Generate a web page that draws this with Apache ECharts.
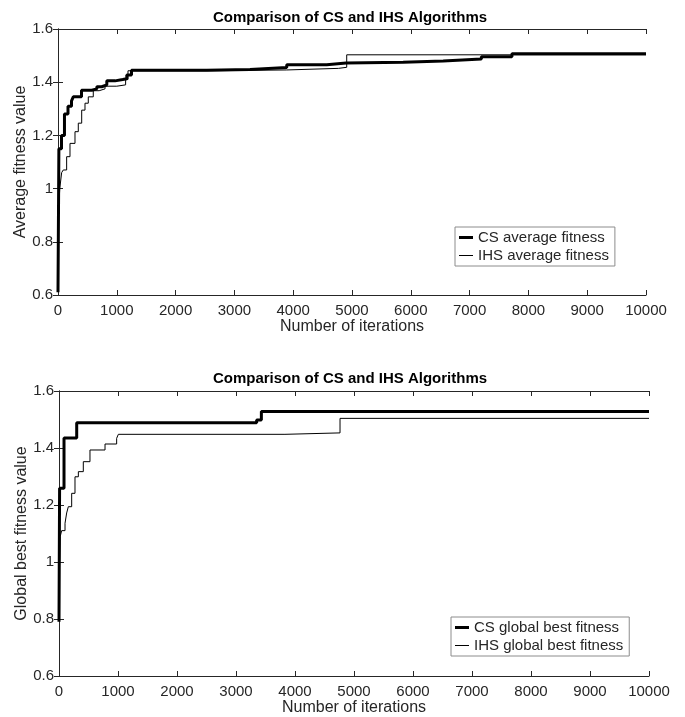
<!DOCTYPE html>
<html>
<head>
<meta charset="utf-8">
<script src="https://cdn.jsdelivr.net/npm/echarts@6/dist/echarts.min.js"></script>
<style>
  html, body { margin: 0; padding: 0; background: #fff; }
  #chart { width: 685px; height: 717px; }
</style>
</head>
<body>
<div id="chart"></div>
<script>
// 刻度
const xTickLabels = [0, 1000, 2000, 3000, 4000, 5000, 6000, 7000, 8000, 9000, 10000];
const yTickLabels = [0.6, 0.8, 1, 1.2, 1.4, 1.6];

// 上图：平均适应度
const csAvgIter = [0, 15, 60, 110, 170, 230, 260, 400, 575, 660, 745, 830, 970, 1100, 1170, 1250, 1700, 2530, 3265, 3890, 4570, 4900, 5870, 6550, 7200, 7720, 10000];
const csAvgVal = [0.61, 1.15, 1.2, 1.28, 1.31, 1.33, 1.345, 1.37, 1.375, 1.383, 1.39, 1.405, 1.41, 1.413, 1.427, 1.445, 1.445, 1.448, 1.455, 1.466, 1.472, 1.475, 1.48, 1.487, 1.496, 1.507, 1.507];
const ihsAvgIter = [0, 30, 62, 90, 147, 204, 289, 345, 403, 459, 515, 600, 700, 800, 1000, 1150, 1190, 1700, 2530, 3890, 4770, 4910, 10000];
const ihsAvgVal = [0.88, 1.0, 1.06, 1.07, 1.12, 1.17, 1.214, 1.246, 1.295, 1.321, 1.345, 1.368, 1.375, 1.385, 1.39, 1.41, 1.443, 1.443, 1.446, 1.452, 1.456, 1.503, 1.503];

// 下图：全局最优适应度
const csBestIter = [0, 10, 85, 300, 3350, 3430, 10000];
const csBestVal = [0.79, 1.259, 1.435, 1.489, 1.498, 1.528, 1.528];
const ihsBestIter = [0, 20, 45, 102, 130, 158, 215, 271, 328, 412, 525, 780, 977, 1006, 3830, 4763, 10000];
const ihsBestVal = [0.9, 1.089, 1.11, 1.136, 1.172, 1.194, 1.241, 1.299, 1.317, 1.352, 1.393, 1.414, 1.434, 1.448, 1.453, 1.504, 1.504];

const titleText = "Comparison of CS and IHS Algorithms";
const textColor = "#262626";
const font = "Liberation Sans, Arial, sans-serif";

const pairs = (xs, ys) => xs.map((x, i) => [x, ys[i]]);

const xMin = xTickLabels[0];
const xMax = xTickLabels[xTickLabels.length - 1];
const xStep = xTickLabels[1] - xTickLabels[0];
const yMin = yTickLabels[0];
const yMax = yTickLabels[yTickLabels.length - 1];
const yStep = 0.2;

// 图例里的线段图标（粗线/细线）
const thickIcon = "path://M0 0H14V3H0Z";
const thinIcon = "path://M0 0H14V1H0Z";

function xAxisFor(grid, pos) {
  const bottom = pos === "bottom";
  return {
    type: "value",
    gridIndex: grid,
    position: pos,
    min: xMin,
    max: xMax,
    interval: xStep,
    name: bottom ? "Number of iterations" : "",
    nameLocation: "middle",
    nameGap: 24,
    nameMoveOverlap: false,
    nameTextStyle: { color: textColor, fontSize: 16, fontFamily: font },
    axisLine: { show: true, lineStyle: { color: textColor, width: 1 } },
    axisTick: { show: true, inside: true, length: 5, lineStyle: { color: textColor } },
    axisLabel: {
      show: bottom,
      color: textColor,
      fontSize: 15,
      fontFamily: font,
      margin: 8,
      formatter: (v) => String(v),
    },
    splitLine: { show: false },
  };
}

function yAxisFor(grid, pos, name) {
  const left = pos === "left";
  return {
    type: "value",
    gridIndex: grid,
    position: pos,
    min: yMin,
    max: yMax,
    interval: yStep,
    name: left ? name : "",
    nameLocation: "middle",
    nameGap: 29,
    nameMoveOverlap: false,
    nameTextStyle: { color: textColor, fontSize: 16, fontFamily: font },
    axisLine: { show: true, lineStyle: { color: textColor, width: 1 } },
    axisTick: { show: true, inside: true, length: 5, lineStyle: { color: textColor } },
    axisLabel: {
      show: left,
      color: textColor,
      fontSize: 15,
      fontFamily: font,
      margin: 5,
      formatter: (v) => String(+v.toFixed(1)),
    },
    splitLine: { show: false },
  };
}

function lineSeries(name, data, xi, yi, width) {
  return {
    name: name,
    type: "line",
    xAxisIndex: xi,
    yAxisIndex: yi,
    data: data,
    step: "end",
    symbol: "none",
    animation: false,
    lineStyle: { color: "#000", width: width },
    itemStyle: { color: "#000" },
  };
}

function legendFor(names, left, top) {
  return {
    orient: "vertical",
    left: left,
    top: top,
    data: [
      { name: names[0], icon: thickIcon },
      { name: names[1], icon: thinIcon },
    ],
    itemWidth: 14,
    itemHeight: 12,
    itemGap: 3,
    padding: [3, 6, 3, 4],
    borderColor: "#8c8c8c",
    borderWidth: 1,
    backgroundColor: "#fff",
    itemStyle: { color: "#000", borderWidth: 0 },
    textStyle: { color: textColor, fontSize: 15, fontFamily: font },
  };
}

const chart = echarts.init(document.getElementById("chart"));
chart.setOption({
  animation: false,
  title: [
    { text: titleText, left: 350, top: 10, textAlign: "center", padding: 0,
      textStyle: { fontSize: 15, fontWeight: "bold", color: "#000", fontFamily: font } },
    { text: titleText, left: 350, top: 371, textAlign: "center", padding: 0,
      textStyle: { fontSize: 15, fontWeight: "bold", color: "#000", fontFamily: font } },
  ],
  grid: [
    { left: 58, top: 29, width: 588, height: 266 },
    { left: 59, top: 391, width: 590, height: 285 },
  ],
  xAxis: [xAxisFor(0, "bottom"), xAxisFor(0, "top"), xAxisFor(1, "bottom"), xAxisFor(1, "top")],
  yAxis: [
    yAxisFor(0, "left", "Average fitness value"),
    yAxisFor(0, "right"),
    yAxisFor(1, "left", "Global best fitness value"),
    yAxisFor(1, "right"),
  ],
  legend: [
    legendFor(["CS average fitness", "IHS average fitness"], 455, 227),
    legendFor(["CS global best fitness", "IHS global best fitness"], 451, 617),
  ],
  series: [
    lineSeries("CS average fitness", pairs(csAvgIter, csAvgVal), 0, 0, 3),
    lineSeries("IHS average fitness", pairs(ihsAvgIter, ihsAvgVal), 0, 0, 1),
    lineSeries("CS global best fitness", pairs(csBestIter, csBestVal), 2, 2, 3),
    lineSeries("IHS global best fitness", pairs(ihsBestIter, ihsBestVal), 2, 2, 1),
  ],
});
</script>
</body>
</html>
